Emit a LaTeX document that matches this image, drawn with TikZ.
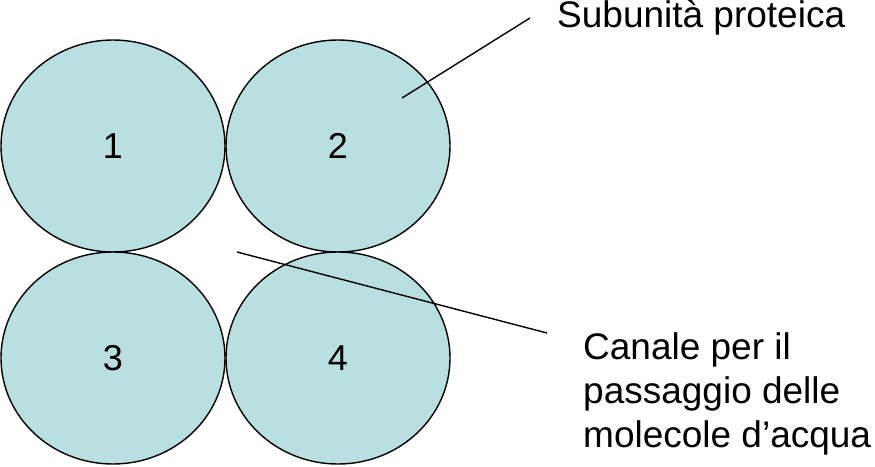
\documentclass[tikz,border=0pt]{standalone}
\usepackage{fontspec}
\setmainfont{Liberation Sans}
\begin{document}
\begin{tikzpicture}[x=1pt,y=-1pt,
  sub/.style={ellipse,draw=black,line width=1.4pt,fill=cyanfill,minimum width=224pt,minimum height=212pt,inner sep=0pt,font=\fontsize{36}{40}\selectfont},
  lbl/.style={font=\fontsize{37}{44}\selectfont,anchor=west,align=left,inner sep=0pt}]
\usetikzlibrary{shapes.geometric}
\definecolor{cyanfill}{HTML}{B9DFE0}
\useasboundingbox (0,0) rectangle (875,466);
\node[sub] (c1) at (113,146) {1};
\node[sub] (c2) at (338,146) {2};
\node[sub] (c3) at (113,358) {3};
\node[sub] (c4) at (338,358) {4};
\node[lbl] (t1) at (557,18) {Subunità proteica};
\node[lbl,anchor=north west] (t2) at (583,332) {Canale per il\\passaggio delle\\molecole d’acqua};
\coordinate (p1) at (402,98);
\coordinate (e1) at (530,18);
\coordinate (p2) at (237,252);
\coordinate (e2) at (547,333);
\draw[line width=1.4pt] (p1) -- (e1);
\draw[line width=1.4pt] (p2) -- (e2);
\end{tikzpicture}
\end{document}
